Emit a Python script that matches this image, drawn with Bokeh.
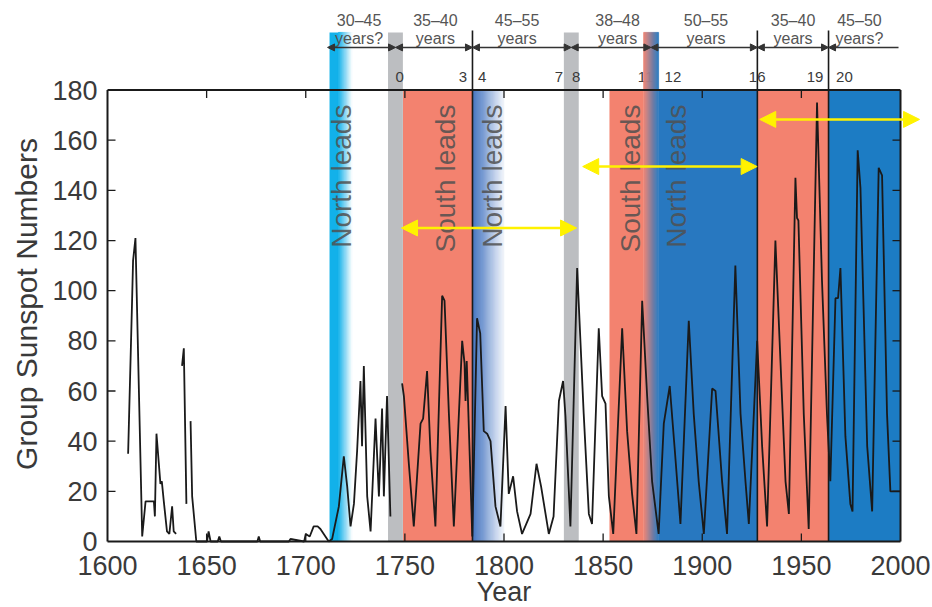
import numpy as np
from bokeh.plotting import figure
from bokeh.models import Arrow, NormalHead, Range1d
from bokeh.core.properties import value
from bokeh.embed import file_html
from bokeh.resources import INLINE

nan = float("nan")

# ---------------- data ----------------
years = [1610.4, 1612.4, 1612.9, 1614.1, 1617.5, 1619.2, 1623.4, 1623.9, 1624.7, 1626.7, 1627.4, 1628.4,
         1630.0, 1631.2, 1632.6, 1633.4, 1634.6, nan,
         1637.6, 1638.5, 1639.8, nan,
         1641.9, 1642.7, 1644.8, 1650.2, 1651.0, 1652.0, 1655.6, 1656.4, 1657.2, 1675.6, 1676.3, 1677.0,
         1691.5, 1692.3, 1699.2, 1700.0, 1702.0, 1704.0, 1706.0, 1707.4, 1711.6, 1713.3, 1716.7, 1719.2,
         1720.9, 1722.6, 1724.3, 1725.9, 1727.6, 1728.4, 1729.3, 1731.0, 1732.7, 1735.2, 1736.9, 1738.5,
         1739.4, 1741.0, 1742.7, nan,
         1748.6, 1749.5, 1752.0, 1754.5, 1757.9, 1759.2, 1761.2, 1762.9, 1765.4, 1768.8, 1770.0, 1772.2,
         1774.7, 1778.9, 1780.1, 1780.6, 1781.2, 1784.0, 1786.4, 1788.0, 1789.8, 1791.5, 1793.2, 1795.7,
         1798.2, 1800.8, 1802.4, 1804.6, 1806.6, 1809.1, 1813.4, 1816.4, 1818.7, 1822.6, 1825.0, 1827.7,
         1829.8, 1831.0, 1833.5, 1836.9, 1840.2, 1842.8, 1844.4, 1847.8, 1849.5, 1851.2, 1852.9, 1855.1,
         1859.6, 1862.1, 1864.6, 1866.8, 1869.7, 1872.2, 1874.7, 1878.0, 1880.6, 1883.6, 1886.0, 1889.0,
         1893.2, 1895.7, 1898.2, 1900.8, 1905.0, 1906.7, 1910.0, 1912.5, 1916.7, 1919.3, 1921.8, 1923.5,
         1927.7, 1930.2, 1932.7, 1936.9, 1939.5, 1942.0, 1943.7, 1947.0, 1947.8, 1948.5, 1951.2, 1953.7,
         1957.9, 1960.4, 1962.9, 1964.6, 1967.2, 1968.5, 1969.7, 1972.2, 1974.7, 1975.8, 1978.4, 1979.8,
         1983.2, 1985.7, 1989.0, 1990.7, 1993.2, 1994.9, 2000.0]
gsn = [35, 96, 112, 121, 2, 16, 16, 10, 43, 23, 24, 16,
       4, 3, 14, 4, 3, nan,
       70, 77, 15, nan,
       48, 18, 0, 0, 4, 0, 0, 2, 0, 0, 2, 0,
       0, 1, 0, 3, 2, 6, 6, 5, 0, 1, 14, 34,
       22, 6, 15, 36, 64, 38, 70, 18, 4, 49, 18, 53,
       18, 58, 10, nan,
       63, 58, 31, 6, 47, 49, 68, 36, 6, 98, 96, 51,
       6, 80, 71, 56, 72, 2, 89, 83, 44, 43, 40, 14,
       6, 54, 19, 26, 12, 3, 11, 31, 22, 3, 10, 56,
       64, 50, 6, 109, 51, 11, 7, 85, 58, 55, 18, 3,
       85, 44, 19, 3, 96, 58, 24, 3, 47, 62, 38, 7,
       88, 51, 24, 3, 61, 60, 24, 3, 110, 51, 24, 7,
       80, 38, 6, 120, 71, 24, 11, 145, 129, 128, 51, 5,
       175, 104, 51, 24, 97, 97, 109, 42, 15, 12, 156, 141,
       38, 12, 149, 146, 51, 20, 20]

x_ticks = [1600, 1650, 1700, 1750, 1800, 1850, 1900, 1950, 2000]
y_ticks = [0, 20, 40, 60, 80, 100, 120, 140, 160, 180]
x_tick_labels = [str(t) for t in x_ticks]
y_tick_labels = [str(t) for t in y_ticks]
x_title = "Year"
y_title = "Group Sunspot Numbers"

# shaded epochs (years)
salmon_left = [1749.0, 1853.2, 1927.8]
salmon_right = [1784.1, 1870.4, 1963.7]
blue_left = [1878.0]
blue_right = [1927.8]
blue2_left = [1963.7]
blue2_right = [2000.0]
gray_left = [1741.5, 1830.2]
gray_right = [1749.0, 1837.7]
cyan_solid = (1712.0, 1716.5)
cyan_fade = (1716.5, 1723.6)
blue_fade = (1784.1, 1800.0)
strip_fade = (1870.4, 1878.0)

# top brackets
bracket_edges = [1711.0, 1745.3, 1784.1, 1833.9, 1874.1, 1927.8, 1963.7, 1999.0]
period_text = ["30–45", "35–40", "45–55", "38–48", "50–55", "35–40", "45–50"]
period_unit = ["years?", "years", "years", "years", "years", "years", "years?"]
period_x = [1726.9, 1765.4, 1806.6, 1857.3, 1901.9, 1945.8, 1979.3]
cycle_text = ["0", "3", "4", "7", "8", "12", "16", "19", "20"]
cycle_x = [1747.4, 1779.3, 1789.0, 1827.7, 1836.4, 1885.2, 1927.7, 1956.9, 1971.7]
divider_x = [1784.1, 1927.8, 1963.7]

lead_text = ["North leads", "South leads", "North leads", "South leads", "North leads"]
lead_x = [1718.2, 1770.6, 1794.3, 1864.0, 1887.2]

yellow_start = [1748.3, 1839.7, 1929.0]
yellow_end = [1836.6, 1927.7, 2009.6]
yellow_y = [125, 149.5, 168.3]

# ---------------- styling ----------------
SALMON = "#F3826F"
BLUE = "#2878C0"
BLUE2 = "#1C7CC4"
GRAY = "#BCBEC1"
CYAN = "#12B1EA"
FONT = "Liberation Sans"
TXT = "#3a3a3a"
AX = "#1a1a1a"
TOP_BAND = 203.0
X0, X1 = 1600, 2000
Y0, Y1 = 0, 180
PX_PER_YEAR = 1.9825
PX_PER_UNIT = 2.508


def hex2rgb(h):
    h = h.lstrip("#")
    return np.array([int(h[i:i + 2], 16) for i in (0, 2, 4)], dtype=float)


def gradient(x0, x1, c0, c1, n=30):
    e = np.linspace(x0, x1, n + 1)
    a, b = hex2rgb(c0), hex2rgb(c1)
    cols = []
    for i in range(n):
        t = (i + 0.5) / n
        c = a + (b - a) * t
        cols.append("#%02x%02x%02x" % tuple(int(round(v)) for v in c))
    return list(e[:-1]), list(e[1:]), cols


W, H = 932, 607
LEFT_PX, BOTTOM_PX = 107, 66          # where the 1600 / 0 corner sits in the canvas
x_lo = X0 - LEFT_PX / PX_PER_YEAR
x_hi = X0 + (W - LEFT_PX) / PX_PER_YEAR
y_lo = Y0 - BOTTOM_PX / PX_PER_UNIT
y_hi = Y0 + (H - BOTTOM_PX) / PX_PER_UNIT

p = figure(width=W, height=H, x_range=Range1d(x_lo, x_hi), y_range=Range1d(y_lo, y_hi),
           output_backend="svg", toolbar_location=None, x_axis_location=None, y_axis_location=None,
           min_border=0)
p.outline_line_color = None
p.xgrid.visible = False
p.ygrid.visible = False
p.background_fill_color = "white"

txt_kw = dict(text_font=value(FONT), text_baseline="middle")

# solid epochs
p.quad(left=salmon_left, right=salmon_right, bottom=Y0, top=Y1, fill_color=SALMON, line_color=None)
p.quad(left=blue_left, right=blue_right, bottom=Y0, top=Y1, fill_color=BLUE, line_color=None)
p.quad(left=blue2_left, right=blue2_right, bottom=Y0, top=Y1, fill_color=BLUE2, line_color=None)
p.quad(left=gray_left, right=gray_right, bottom=Y0, top=TOP_BAND, fill_color=GRAY, line_color=None)

# cyan band
p.quad(left=[cyan_solid[0]], right=[cyan_solid[1]], bottom=Y0, top=TOP_BAND, fill_color=CYAN, line_color=None)
l, r, c = gradient(cyan_fade[0], cyan_fade[1], CYAN, "#ffffff")
p.quad(left=l, right=r, bottom=Y0, top=TOP_BAND, fill_color=c, line_color=c, line_width=0.6)
# blue fade
l, r, c = gradient(blue_fade[0], blue_fade[1], "#3A6DBE", "#F2F5FB")
p.quad(left=l, right=r, bottom=Y0, top=Y1, fill_color=c, line_color=c, line_width=0.6)

# cycle number "11" partly under the strip
p.text(x=[1871.4], y=[185.1], text=["11"], text_font_size="15px", text_color=TXT, text_align="center", **txt_kw)

# salmon -> blue strip
l, r, c = gradient(strip_fade[0], strip_fade[1], SALMON, BLUE, n=16)
p.quad(left=l, right=r, bottom=Y0, top=TOP_BAND, fill_color=c, line_color=c, line_width=0.6)

# divider lines
p.segment(x0=divider_x, y0=Y0, x1=divider_x, y1=203.7, line_color=AX, line_width=1.6)

# lead labels
p.text(x=lead_x, y=174.2, text=lead_text, angle=np.pi / 2, text_font_size="28px",
       text_color="#505050", text_alpha=0.85, text_align="right", **txt_kw)

# sunspot series
p.line(years, gsn, line_color=AX, line_width=1.8)

# axes frame (box) with inward ticks on all four sides
p.segment(x0=[X0, X0, X0, X1], y0=[Y0, Y1, Y0, Y0], x1=[X1, X1, X0, X1], y1=[Y0, Y1, Y1, Y1],
          line_color=AX, line_width=2)
yt = y_ticks[1:-1]
xt = x_ticks[1:-1]
tx = 8 / PX_PER_YEAR
ty = 8 / PX_PER_UNIT
p.segment(x0=[X0] * len(yt), y0=yt, x1=[X0 + tx] * len(yt), y1=yt, line_color=AX, line_width=1.3)
p.segment(x0=[X1] * len(yt), y0=yt, x1=[X1 - tx] * len(yt), y1=yt, line_color=AX, line_width=1.3)
p.segment(x0=xt, y0=[Y0] * len(xt), x1=xt, y1=[Y0 + ty] * len(xt), line_color=AX, line_width=1.3)
p.segment(x0=xt, y0=[Y1] * len(xt), x1=xt, y1=[Y1 - ty] * len(xt), line_color=AX, line_width=1.3)

# tick labels and axis titles
p.text(x=x_ticks, y=Y0 - 24 / PX_PER_UNIT, text=x_tick_labels, text_font_size="27px",
       text_color=TXT, text_align="center", **txt_kw)
p.text(x=X0 - 10 / PX_PER_YEAR, y=y_ticks, text=y_tick_labels, text_font_size="27px",
       text_color=TXT, text_align="right", **txt_kw)
p.text(x=[(X0 + X1) / 2], y=[Y0 - 50 / PX_PER_UNIT], text=[x_title], text_font_size="27px",
       text_color=TXT, text_align="center", **txt_kw)
p.text(x=[X0 - 81.4 / PX_PER_YEAR], y=[94.7], text=[y_title], angle=np.pi / 2, text_font_size="30px",
       text_color=TXT, text_align="center", **txt_kw)

# yellow arrows
for xs, xe, yy in zip(yellow_start, yellow_end, yellow_y):
    p.add_layout(Arrow(x_start=xs, y_start=yy, x_end=xe, y_end=yy, line_color="#FFF200", line_width=2.5,
                       start=NormalHead(size=16, fill_color="#FFF200", line_color="#FFF200"),
                       end=NormalHead(size=16, fill_color="#FFF200", line_color="#FFF200")))

# top brackets
for i in range(len(bracket_edges) - 1):
    endhead = NormalHead(size=7, fill_color="#333333", line_color="#333333") if i < len(bracket_edges) - 2 else None
    p.add_layout(Arrow(x_start=bracket_edges[i], y_start=197.0, x_end=bracket_edges[i + 1], y_end=197.0,
                       line_color="#333333", line_width=1.5,
                       start=NormalHead(size=7, fill_color="#333333", line_color="#333333"), end=endhead))

p.text(x=period_x, y=207.9, text=period_text, text_font_size="16px", text_color="#555555",
       text_align="center", **txt_kw)
p.text(x=period_x, y=200.6, text=period_unit, text_font_size="16px", text_color="#555555",
       text_align="center", **txt_kw)
p.text(x=cycle_x, y=185.1, text=cycle_text, text_font_size="15px", text_color=TXT,
       text_align="center", **txt_kw)

open("out.html", "w").write(file_html(p, INLINE))
